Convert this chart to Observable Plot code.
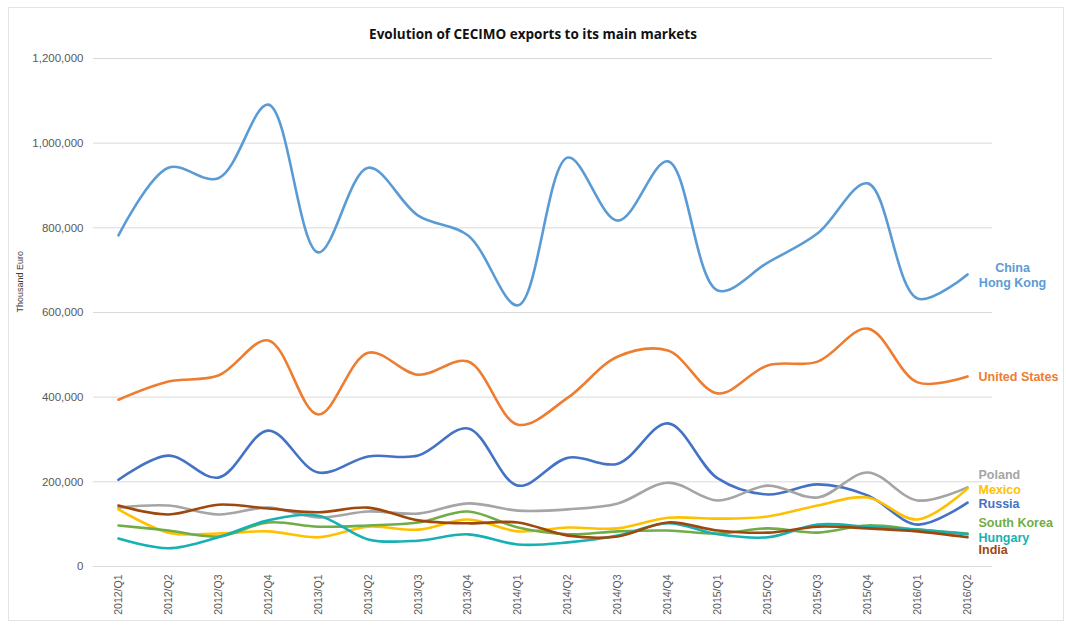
<!DOCTYPE html>
<html>
<head>
<meta charset="utf-8">
<script src="https://cdn.jsdelivr.net/npm/d3@7"></script>
<script src="https://cdn.jsdelivr.net/npm/@observablehq/plot@0.6"></script>
<style>
  html, body { margin: 0; padding: 0; background: #fff; }
  #wrap { position: relative; width: 1066px; height: 625px; }
  #frame { position: absolute; left: 8px; top: 7px; width: 1056px; height: 614px; border: 1px solid #E3E3E3; box-sizing: border-box; pointer-events: none; }
  #title { position: absolute; left: 0; width: 1066px; top: 25px; text-align: center; font-family: "Open Sans", "Liberation Sans", sans-serif; font-weight: 700; font-size: 13.5px; color: #111; }
</style>
</head>
<body>
<div id="wrap">
  <div id="chart"></div>
  <div id="frame"></div>
  <div id="title">Evolution of CECIMO exports to its main markets</div>
</div>
<script>
const quarters = ["2012/Q1","2012/Q2","2012/Q3","2012/Q4","2013/Q1","2013/Q2","2013/Q3","2013/Q4","2014/Q1","2014/Q2","2014/Q3","2014/Q4","2015/Q1","2015/Q2","2015/Q3","2015/Q4","2016/Q1","2016/Q2"];
const seriesNames = ["China\nHong Kong","United States","Russia","Poland","Mexico","South Korea","Hungary","India"];
const chinaHK     = [782000,942000,917000,1091000,742000,942000,829000,782000,617000,966000,817000,957000,652000,718000,787000,905000,633000,690000];
const unitedStates= [394000,437000,451000,534000,359000,505000,453000,484000,335000,399000,496000,510000,409000,475000,484000,562000,435000,449000];
const russia      = [205000,262000,210000,321000,222000,260000,262000,326000,191000,257000,243000,338000,208000,170000,194000,168000,99000,151000];
const poland      = [139000,144000,123000,139000,116000,130000,125000,149000,132000,135000,149000,198000,156000,191000,163000,222000,156000,187000];
const mexico      = [135000,80000,78000,83000,69000,94000,87000,111000,83000,92000,90000,115000,113000,118000,144000,163000,111000,184000];
const southKorea  = [97000,85000,71000,104000,94000,97000,104000,130000,92000,76000,83000,85000,78000,90000,80000,97000,87000,78000];
const hungary     = [66000,43000,69000,109000,120000,64000,61000,76000,52000,57000,73000,102000,76000,69000,99000,94000,87000,76000];
const india       = [144000,123000,146000,137000,128000,139000,109000,102000,104000,73000,71000,104000,85000,80000,94000,90000,83000,69000];
const yTicks = [0,200000,400000,600000,800000,1000000,1200000];

const valuesBySeries = [chinaHK, unitedStates, russia, poland, mexico, southKorea, hungary, india];
const colors = ["#5B9BD5","#ED7D31","#4472C4","#A5A5A5","#FFC000","#70AD47","#17B1B3","#9E480E"];
const labelDy = [0, 0, 0, -13, 0, -11, 3, 12];

const rows = [];
seriesNames.forEach((s, i) => valuesBySeries[i].forEach((v, j) => rows.push({series: s, quarter: quarters[j], value: v})));
const lastRows = seriesNames.map((s, i) => ({series: s, quarter: quarters[quarters.length - 1], value: valuesBySeries[i][quarters.length - 1], i}));

const fmt = d3.format(",");
const font = "'Liberation Sans', Arial, sans-serif";

const chart = Plot.plot({
  width: 1066,
  height: 625,
  marginLeft: 93,
  marginRight: 74,
  marginTop: 58,
  marginBottom: 59,
  style: {fontFamily: font, background: "transparent", overflow: "visible"},
  x: {type: "point", domain: quarters, padding: 0.5, round: false, label: null},
  y: {domain: [0, 1200000], label: null},
  color: {domain: seriesNames, range: colors},
  marks: [
    Plot.gridY(yTicks, {stroke: "#D9D9D9", strokeOpacity: 1, strokeWidth: 1}),
    Plot.axisY(yTicks, {tickSize: 0, tickPadding: 10, tickFormat: fmt, fontSize: 11.5, fill: "#595959", label: null}),
    Plot.axisX({tickSize: 0, tickRotate: -90, tickPadding: 8, fontSize: 10.5, fill: "#595959", label: null}),
    Plot.text(["Thousand Euro"], {frameAnchor: "left", dx: -73, rotate: -90, fontSize: 9, fill: "#404040"}),
    ...seriesNames.map((s, i) => Plot.line(rows.filter(r => r.series === s), {
      x: "quarter", y: "value", stroke: colors[i], strokeWidth: 2.6, curve: "catmull-rom"
    })),
    ...lastRows.map(r => Plot.text([r], {
      x: "quarter", y: "value", text: "series",
      fill: colors[r.i], fontWeight: "bold", fontSize: 12.5,
      textAnchor: r.i === 0 ? "middle" : "start",
      dx: r.i === 0 ? 45 : 11, dy: labelDy[r.i], lineHeight: 1.25
    }))
  ]
});
document.getElementById("chart").appendChild(chart);
</script>
</body>
</html>
